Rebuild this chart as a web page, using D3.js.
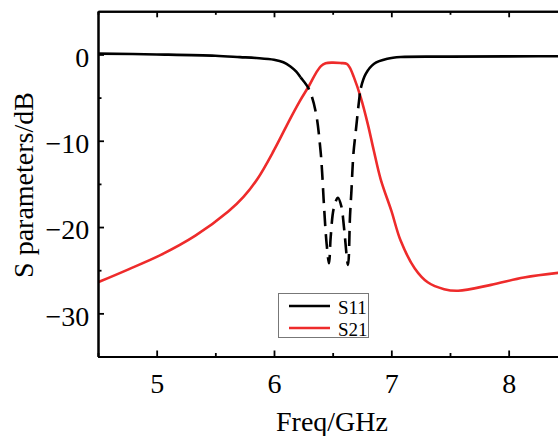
<!DOCTYPE html>
<html>
<head>
<meta charset="utf-8">
<script src="https://cdn.jsdelivr.net/npm/d3@7"></script>
<style>
  html, body { margin: 0; padding: 0; background: #fff; }
  svg { display: block; }
  text { font-family: "Liberation Serif", "Times New Roman", serif; fill: #000; }
</style>
</head>
<body>
<svg id="chart" width="558" height="436"></svg>
<script>
// ---- data ----
const s11Freq = [4.5, 5.0, 5.5, 5.71, 5.85, 6.0, 6.08, 6.14, 6.19, 6.226, 6.297, 6.355, 6.397, 6.41, 6.426, 6.449, 6.469, 6.483, 6.51, 6.545, 6.574, 6.597, 6.631, 6.648, 6.66, 6.677, 6.697, 6.725, 6.74, 6.782, 6.853, 6.967, 7.08, 7.5, 8.0, 8.6];
const s11Vals = [0.1, 0.0, -0.15, -0.31, -0.42, -0.62, -0.9, -1.4, -2.0, -2.64, -4.0, -6.6, -11.2, -13.6, -17.5, -22.0, -24.2, -21.2, -17.8, -16.6, -17.6, -20.1, -24.4, -18.7, -15.8, -11.5, -8.9, -5.35, -3.9, -2.25, -1.08, -0.5, -0.3, -0.25, -0.22, -0.2];
const s21Freq = [4.5, 4.76, 5.04, 5.33, 5.61, 5.74, 5.86, 6.0, 6.14, 6.22, 6.3, 6.36, 6.40, 6.44, 6.5, 6.57, 6.62, 6.645, 6.68, 6.74, 6.8, 6.85, 6.91, 7.0, 7.08, 7.2, 7.31, 7.45, 7.57, 7.85, 8.13, 8.43, 8.6];
const s21Vals = [-26.4, -24.9, -23.2, -21.0, -18.2, -16.5, -14.4, -11.1, -7.4, -5.4, -3.6, -2.1, -1.35, -1.02, -0.95, -1.0, -1.08, -1.5, -2.6, -5.0, -8.1, -11.1, -14.5, -18.1, -21.6, -24.8, -26.4, -27.2, -27.38, -26.7, -25.85, -25.3, -25.1];
const xTicks = [5, 6, 7, 8];
const xMinorTicks = [4.5, 5.5, 6.5, 7.5, 8.5];
const yTicks = [0, -10, -20, -30];
const yMinorTicks = [-5, -15, -25, -35];
const seriesNames = ["S11", "S21"];
const seriesColors = ["#000000", "#ee2b2b"];
const xLabel = "Freq/GHz";
const yLabel = "S parameters/dB";

// ---- layout ----
const svg = d3.select("#chart");
const L = 98, T = 11.3, B = 356.5;
const x = d3.scaleLinear().domain([4.5, 8.5]).range([L, L + 4 * 117.33]);
const y = d3.scaleLinear().domain([-35, 5]).range([B, T]);
const R = x.range()[1];

svg.append("defs").append("clipPath").attr("id", "plotclip")
  .append("rect").attr("x", L).attr("y", T).attr("width", R - L).attr("height", B - T);

const line = d3.line().x(d => x(d[0])).y(d => y(d[1])).curve(d3.curveCatmullRom.alpha(0.5));

const s11 = s11Freq.map((f, i) => [f, s11Vals[i]]);
const s21 = s21Freq.map((f, i) => [f, s21Vals[i]]);

const plot = svg.append("g").attr("clip-path", "url(#plotclip)");

plot.append("path").datum(s21).attr("d", line)
  .attr("fill", "none").attr("stroke", seriesColors[1]).attr("stroke-width", 2.6);

// S11: solid where shallow, dashed in the deep band
const thr = -3.95;
const iStart = s11.findIndex(d => d[1] < thr) - 1;
let iEnd = -1;
s11.forEach((d, i) => { if (d[1] < thr) iEnd = i; });
iEnd = iEnd + 1;
// draw the full curve once to get a continuous shape, split by path length
const full = plot.append("path").datum(s11).attr("d", line)
  .attr("fill", "none").attr("stroke", "none");
const lenTo = k => {
  const p = plot.append("path").datum(s11.slice(0, k + 1)).attr("d", line).attr("stroke", "none").attr("fill", "none");
  const l = p.node().getTotalLength(); p.remove(); return l;
};
const total = full.node().getTotalLength();
const l0 = lenTo(iStart), l1 = lenTo(iEnd);
// solid parts
full.attr("stroke", seriesColors[0]).attr("stroke-width", 2.6)
  .attr("stroke-dasharray", `${l0},${l1 - l0},${total}`);
// dashed middle
const dashes = [];
let s = 0; const dl = 15, gl = 8;
const segs = [0, l0];
let pos = l0;
while (pos < l1) {
  const d = Math.min(dl, l1 - pos);
  segs.push(d); pos += d;
  if (pos >= l1) break;
  const g = Math.min(gl, l1 - pos);
  segs.push(g); pos += g;
}
if (segs.length % 2 === 1) segs.push(0);
segs.push(0, total);
plot.append("path").datum(s11).attr("d", line)
  .attr("fill", "none").attr("stroke", seriesColors[0]).attr("stroke-width", 2.6)
  .attr("stroke-dasharray", segs.join(","));

// ---- axes ----
const fmt = d3.format("d");
svg.append("g").attr("transform", `translate(0,${B})`)
  .call(d3.axisBottom(x).tickValues(xTicks).tickFormat(fmt).tickSizeInner(-6).tickSizeOuter(0).tickPadding(16.5));
svg.append("g").attr("transform", `translate(0,${B})`)
  .call(d3.axisBottom(x).tickValues(xMinorTicks).tickFormat("").tickSizeInner(-3.5).tickSizeOuter(0));
svg.append("g").attr("transform", `translate(0,${T})`)
  .call(d3.axisTop(x).tickValues(xTicks).tickFormat("").tickSizeInner(-6).tickSizeOuter(0));
svg.append("g").attr("transform", `translate(0,${T})`)
  .call(d3.axisTop(x).tickValues(xMinorTicks).tickFormat("").tickSizeInner(-3.5).tickSizeOuter(0));
const axL = svg.append("g").attr("transform", `translate(${L},0)`)
  .call(d3.axisLeft(y).tickValues(yTicks).tickFormat(fmt).tickSizeInner(-6).tickSizeOuter(0).tickPadding(8.7));
svg.append("g").attr("transform", `translate(${L},0)`)
  .call(d3.axisLeft(y).tickValues(yMinorTicks).tickFormat("").tickSizeInner(-3.5).tickSizeOuter(0));

svg.selectAll(".domain").attr("stroke", "#000").attr("stroke-width", 2);
svg.selectAll(".tick line").attr("stroke", "#000").attr("stroke-width", 1.8);
svg.selectAll(".tick text").attr("font-family", "Liberation Serif, serif").attr("font-size", 28).attr("fill", "#000");
axL.selectAll(".tick text").attr("dy", "0.42em");

// axis labels
svg.append("text").attr("x", 332).attr("y", 431).attr("text-anchor", "middle")
  .attr("font-size", 28).text(xLabel);
svg.append("text").attr("transform", "translate(33,185) rotate(-90)").attr("text-anchor", "middle")
  .attr("font-size", 28).text(yLabel);

// ---- legend ----
const lg = svg.append("g");
lg.append("rect").attr("x", 278.5).attr("y", 293.5).attr("width", 90).attr("height", 44)
  .attr("fill", "#fff").attr("stroke", "#777").attr("stroke-width", 1);
const legY = [306, 328];
seriesNames.forEach((n, i) => {
  lg.append("line").attr("x1", 289).attr("x2", 330).attr("y1", legY[i]).attr("y2", legY[i])
    .attr("stroke", seriesColors[i]).attr("stroke-width", 2.6);
  lg.append("text").attr("x", 338).attr("y", legY[i] + 8).attr("font-size", 19).text(n);
});
</script>
</body>
</html>
